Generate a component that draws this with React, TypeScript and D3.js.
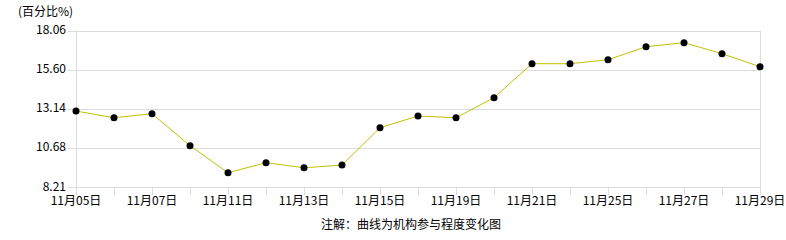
import React from "react";
import * as d3 from "d3";

const dates = ["11月05日","11月06日","11月07日","11月08日","11月11日","11月12日","11月13日","11月14日","11月15日","11月18日","11月19日","11月20日","11月21日","11月22日","11月25日","11月26日","11月27日","11月28日","11月29日"];
const values = [12.99,12.57,12.82,10.81,9.11,9.74,9.42,9.59,11.94,12.68,12.57,13.83,15.97,15.97,16.22,17.04,17.29,16.60,15.78];
const yTicks = [8.21,10.68,13.14,15.60,18.06];
const labeledDates = ["11月05日","11月07日","11月11日","11月13日","11月15日","11月19日","11月21日","11月25日","11月27日","11月29日"];

const W = 786, H = 240;
const L = 76, R = 760, T = 30.5, B = 187;
const font = "'Noto Sans CJK SC', 'Noto Sans', sans-serif";

export default function App() {
  const x = d3.scalePoint<string>().domain(dates).range([L, R]);
  const y = d3.scaleLinear().domain([8.21, 18.06]).range([B, T]);
  const line = d3.line<number>().x((_, i) => x(dates[i])!).y(d => y(d));
  return (
    <svg width={W} height={H} style={{ position: "absolute", left: 0, top: 0, background: "#fff" }}>
      <text x={18} y={16} fontSize={12} fontFamily={font} fill="#000">(百分比%)</text>
      {yTicks.map(t => (
        <g key={t}>
          <line x1={68} x2={R} y1={Math.round(y(t)) + 0.5} y2={Math.round(y(t)) + 0.5} stroke="#dcdcdc" />
          <text x={66} y={y(t) + 3.5} fontSize={12} fontFamily={font} textAnchor="end" fill="#000">{t.toFixed(2)}</text>
        </g>
      ))}
      <line x1={L + 0.5} x2={L + 0.5} y1={T} y2={B} stroke="#dcdcdc" />
      <line x1={R + 0.5} x2={R + 0.5} y1={T} y2={B} stroke="#dcdcdc" />
      {dates.map(d => (
        <line key={d} x1={Math.round(x(d)!) + 0.5} x2={Math.round(x(d)!) + 0.5} y1={B} y2={B + 8} stroke="#dcdcdc" />
      ))}
      {labeledDates.map(d => (
        <text key={d} x={x(d)!} y={205} fontSize={12} fontFamily={font} textAnchor="middle" fill="#000">{d}</text>
      ))}
      <path d={line(values)!} fill="none" stroke="#c4bf00" strokeWidth={1} />
      {values.map((v, i) => (
        <circle key={i} cx={x(dates[i])!} cy={y(v)} r={3.5} fill="#000" />
      ))}
      <text x={411} y={229} fontSize={12} fontFamily={font} textAnchor="middle" fill="#000">注解：曲线为机构参与程度变化图</text>
    </svg>
  );
}
